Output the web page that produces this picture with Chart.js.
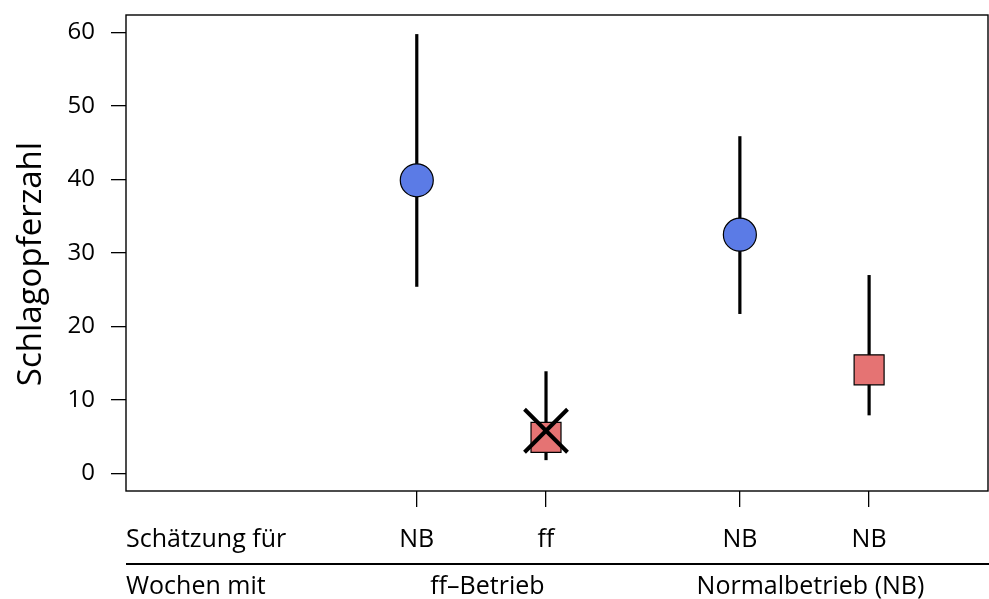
<!DOCTYPE html>
<html lang="de">
<head>
<meta charset="utf-8">
<title>Schlagopferzahl</title>
<script src="https://cdn.jsdelivr.net/npm/chart.js@4.4.1/dist/chart.umd.min.js"></script>
<style>
  html, body { margin: 0; padding: 0; background: #fff; }
  #contenedor { width: 989px; height: 599px; position: relative; }
</style>
</head>
<body>
<div id="contenedor"><canvas id="grafica"></canvas></div>
<script>
//-------------//
//--|daten|--//
//-------------//
const positionen = [1, 2, 3.5, 4.5];
const schaetzungFuer = ['NB', 'ff', 'NB', 'NB'];
const schaetzwerte = [39.9, 4.9, 32.5, 14.1];
const untereGrenze = [25.4, 1.8, 21.7, 7.9];
const obereGrenze = [59.8, 13.9, 45.9, 27.0];
const symbole = ['circle', 'rect', 'circle', 'rect'];
const kreuzWerte = [null, 5.8, null, null];
const wochenGruppen = ['ff–Betrieb', 'Normalbetrieb (NB)'];
const gruppeVon = [0, 0, 1, 1];
const yTicks = [0, 10, 20, 30, 40, 50, 60];

//---------------//
//--|schrift|--//
//---------------//
const SCHRIFT = "'Open Sans', 'Noto Sans', sans-serif";
const GROESSE = 24;
const GROESSE_UNTEN = 25;

//------------------------------//
//--|rahmen_fehlerbalken_text|--//
//------------------------------//
const extras = {
    id: 'extras',
    beforeDatasetsDraw(chart) {
        const { ctx, chartArea: a, scales: { x, y } } = chart;
        ctx.save();
        ctx.strokeStyle = '#000';
        ctx.lineWidth = 1.4;
        ctx.strokeRect(a.left, a.top, a.right - a.left, a.bottom - a.top);
        ctx.lineWidth = 3.2;
        positionen.forEach((p, i) => {
            const px = x.getPixelForValue(p);
            ctx.beginPath();
            ctx.moveTo(px, y.getPixelForValue(untereGrenze[i]));
            ctx.lineTo(px, y.getPixelForValue(obereGrenze[i]));
            ctx.stroke();
        });
        ctx.restore();
    },
    afterDraw(chart) {
        const { ctx, chartArea: a, scales: { x } } = chart;
        ctx.save();
        ctx.fillStyle = '#000';
        // titel der y-achse
        ctx.font = '33px ' + SCHRIFT;
        ctx.translate(41, 264);
        ctx.rotate(-Math.PI / 2);
        ctx.textAlign = 'center';
        ctx.textBaseline = 'alphabetic';
        ctx.fillText('Schlagopferzahl', 0, 0);
        ctx.setTransform(1, 0, 0, 1, 0, 0);
        // zeilen unter der achse
        ctx.font = GROESSE_UNTEN + 'px ' + SCHRIFT;
        ctx.textAlign = 'left';
        ctx.fillText('Schätzung für', a.left, 547);
        ctx.fillText('Wochen mit', a.left, 594);
        ctx.strokeStyle = '#000';
        ctx.lineWidth = 2.2;
        ctx.beginPath();
        ctx.moveTo(a.left, 564);
        ctx.lineTo(chart.width, 564);
        ctx.stroke();
        ctx.textAlign = 'center';
        wochenGruppen.forEach((g, k) => {
            const pos = positionen.filter((p, i) => gruppeVon[i] === k);
            const mitte = pos.reduce((s, v) => s + v, 0) / pos.length;
            ctx.fillText(g, x.getPixelForValue(mitte) + 6, 594);
        });
        ctx.restore();
    }
};

document.addEventListener("DOMContentLoaded", () => {
    const ctx = document.getElementById('grafica').getContext('2d');
    new Chart(ctx, {
        type: 'scatter',
        data: {
            datasets: [
                {
                    order: 1,
                    data: positionen.map((p, i) => ({ x: p, y: schaetzwerte[i] })),
                    pointStyle: symbole,
                    pointRadius: symbole.map(s => s === 'rect' ? 21.2 : 16.5),
                    pointHoverRadius: symbole.map(s => s === 'rect' ? 21.2 : 16.5),
                    backgroundColor: symbole.map(s => s === 'rect' ? '#e57373' : '#5b7be6'),
                    borderColor: '#000',
                    borderWidth: 1.2
                },
                {
                    order: 0,
                    data: positionen
                        .map((p, i) => ({ x: p, y: kreuzWerte[i] }))
                        .filter(d => d.y !== null),
                    pointStyle: 'crossRot',
                    pointRadius: 30.4,
                    pointHoverRadius: 30.4,
                    borderColor: '#000',
                    borderWidth: 4
                }
            ]
        },
        options: {
            responsive: true,
            maintainAspectRatio: false,
            animation: false,
            layout: { autoPadding: false, padding: { top: 15, right: 1, left: 0, bottom: 0 } },
            plugins: {
                legend: { display: false },
                tooltip: { enabled: false }
            },
            scales: {
                x: {
                    type: 'linear',
                    min: -1.25,
                    max: 5.42,
                    border: { display: false },
                    grid: { drawOnChartArea: false, drawTicks: true, tickLength: 16, color: '#000', lineWidth: 1.3 },
                    afterBuildTicks: scale => { scale.ticks = positionen.map(v => ({ value: v })); },
                    afterFit: scale => {
                        scale.height = 108;
                        scale.paddingLeft = 0;
                        scale.paddingRight = 0;
                    },
                    ticks: {
                        autoSkip: false,
                        maxRotation: 0,
                        padding: 18,
                        color: '#000',
                        font: { family: SCHRIFT, size: GROESSE_UNTEN },
                        callback: (v, i) => schaetzungFuer[i]
                    }
                },
                y: {
                    min: -2.4,
                    max: 62.4,
                    border: { display: false },
                    grid: { drawOnChartArea: false, drawTicks: true, tickLength: 15, color: '#000', lineWidth: 1.3 },
                    afterBuildTicks: scale => { scale.ticks = yTicks.map(v => ({ value: v })); },
                    afterFit: scale => {
                        scale.width = 126;
                        scale.paddingTop = 0;
                        scale.paddingBottom = 0;
                    },
                    ticks: {
                        padding: 16,
                        color: '#000',
                        font: { family: SCHRIFT, size: GROESSE }
                    }
                }
            }
        },
        plugins: [extras]
    });
});
</script>
</body>
</html>
